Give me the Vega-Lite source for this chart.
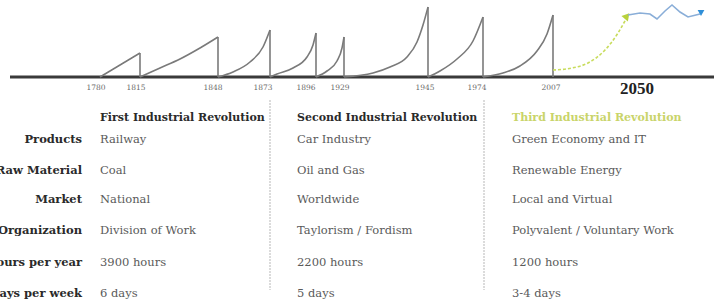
{
  "$schema": "https://vega.github.io/schema/vega-lite/v6.json",
  "width": 714,
  "height": 299,
  "autosize": {"type": "none"},
  "padding": 0,
  "background": "#ffffff",
  "config": {"view": {"stroke": null}},
  "datasets": {
    "curves": [
      {"wave": 1, "x": 100, "y": 0}, {"wave": 1, "x": 110, "y": 6}, {"wave": 1, "x": 120, "y": 12}, {"wave": 1, "x": 130, "y": 18}, {"wave": 1, "x": 140, "y": 24},
      {"wave": 2, "x": 140, "y": 0}, {"wave": 2, "x": 160, "y": 9}, {"wave": 2, "x": 180, "y": 18}, {"wave": 2, "x": 200, "y": 29}, {"wave": 2, "x": 218, "y": 40},
      {"wave": 3, "x": 218, "y": 0}, {"wave": 3, "x": 233, "y": 5}, {"wave": 3, "x": 250, "y": 15}, {"wave": 3, "x": 263, "y": 30}, {"wave": 3, "x": 270, "y": 47},
      {"wave": 4, "x": 270, "y": 0}, {"wave": 4, "x": 277, "y": 3}, {"wave": 4, "x": 293, "y": 9}, {"wave": 4, "x": 307, "y": 20}, {"wave": 4, "x": 313, "y": 32}, {"wave": 4, "x": 316, "y": 44},
      {"wave": 5, "x": 316, "y": 0}, {"wave": 5, "x": 327, "y": 6}, {"wave": 5, "x": 337, "y": 16}, {"wave": 5, "x": 342, "y": 29}, {"wave": 5, "x": 344, "y": 40},
      {"wave": 6, "x": 344, "y": 0}, {"wave": 6, "x": 373, "y": 4}, {"wave": 6, "x": 390, "y": 10}, {"wave": 6, "x": 407, "y": 20}, {"wave": 6, "x": 417, "y": 35}, {"wave": 6, "x": 423, "y": 52}, {"wave": 6, "x": 428, "y": 70},
      {"wave": 7, "x": 428, "y": 0}, {"wave": 7, "x": 440, "y": 6}, {"wave": 7, "x": 457, "y": 18}, {"wave": 7, "x": 473, "y": 36}, {"wave": 7, "x": 483, "y": 60},
      {"wave": 8, "x": 483, "y": 0}, {"wave": 8, "x": 503, "y": 4}, {"wave": 8, "x": 520, "y": 11}, {"wave": 8, "x": 537, "y": 26}, {"wave": 8, "x": 547, "y": 43}, {"wave": 8, "x": 553, "y": 62}
    ],
    "drops": [
      {"x": 140, "top": 24}, {"x": 218, "top": 40}, {"x": 270, "top": 47}, {"x": 316, "top": 44},
      {"x": 344, "top": 40}, {"x": 428, "top": 70}, {"x": 483, "top": 60}, {"x": 553, "top": 62}
    ],
    "green": [
      {"x": 553, "y": 7}, {"x": 572, "y": 9}, {"x": 588, "y": 14}, {"x": 605, "y": 27}, {"x": 618, "y": 44}, {"x": 626, "y": 58}
    ],
    "blue": [
      {"x": 628, "y": 62}, {"x": 640, "y": 64}, {"x": 650, "y": 63}, {"x": 657, "y": 58}, {"x": 665, "y": 66}, {"x": 672, "y": 72}, {"x": 680, "y": 65}, {"x": 688, "y": 60}, {"x": 700, "y": 63}
    ],
    "years": [
      {"label": "1780", "x": 96}, {"label": "1815", "x": 136}, {"label": "1848", "x": 213}, {"label": "1873", "x": 263},
      {"label": "1896", "x": 306}, {"label": "1929", "x": 340}, {"label": "1945", "x": 425}, {"label": "1974", "x": 477}, {"label": "2007", "x": 551}
    ],
    "seps": [{"x": 270, "y": -23, "y2": -213}, {"x": 484, "y": -23, "y2": -213}],
    "rowlabels": [
      {"text": "Products", "y": -63}, {"text": "Raw Material", "y": -94}, {"text": "Market", "y": -123},
      {"text": "Organization", "y": -154}, {"text": "Hours per year", "y": -186}, {"text": "Days per week", "y": -217}
    ],
    "headers": [
      {"rev": "First", "text": "First Industrial Revolution", "x": 100},
      {"rev": "Second", "text": "Second Industrial Revolution", "x": 297},
      {"rev": "Third", "text": "Third Industrial Revolution", "x": 512}
    ],
    "cells": [
      {"x": 100, "y": -63, "text": "Railway"}, {"x": 100, "y": -94, "text": "Coal"}, {"x": 100, "y": -123, "text": "National"},
      {"x": 100, "y": -154, "text": "Division of Work"}, {"x": 100, "y": -186, "text": "3900 hours"}, {"x": 100, "y": -217, "text": "6 days"},
      {"x": 297, "y": -63, "text": "Car Industry"}, {"x": 297, "y": -94, "text": "Oil and Gas"}, {"x": 297, "y": -123, "text": "Worldwide"},
      {"x": 297, "y": -154, "text": "Taylorism / Fordism"}, {"x": 297, "y": -186, "text": "2200 hours"}, {"x": 297, "y": -217, "text": "5 days"},
      {"x": 512, "y": -63, "text": "Green Economy and IT"}, {"x": 512, "y": -94, "text": "Renewable Energy"}, {"x": 512, "y": -123, "text": "Local and Virtual"},
      {"x": 512, "y": -154, "text": "Polyvalent / Voluntary Work"}, {"x": 512, "y": -186, "text": "1200 hours"}, {"x": 512, "y": -217, "text": "3-4 days"}
    ]
  },
  "layer": [
    {
      "data": {"values": [{"x": 10, "x2": 714, "y": 0}]},
      "mark": {"type": "rule", "stroke": "#3a3a3a", "strokeWidth": 3},
      "encoding": {
        "x": {"field": "x", "type": "quantitative", "scale": {"domain": [0, 714], "nice": false, "zero": false}, "axis": null},
        "x2": {"field": "x2"},
        "y": {"field": "y", "type": "quantitative", "scale": {"domain": [-222, 77], "nice": false, "zero": false}, "axis": null}
      }
    },
    {
      "data": {"name": "curves"},
      "mark": {"type": "line", "interpolate": "monotone", "stroke": "#7a7a7a", "strokeWidth": 1.6},
      "encoding": {
        "x": {"field": "x", "type": "quantitative"},
        "y": {"field": "y", "type": "quantitative"},
        "detail": {"field": "wave"}
      }
    },
    {
      "data": {"name": "drops"},
      "mark": {"type": "rule", "stroke": "#7a7a7a", "strokeWidth": 1.6},
      "encoding": {
        "x": {"field": "x", "type": "quantitative"},
        "y": {"field": "top", "type": "quantitative"},
        "y2": {"datum": 0}
      }
    },
    {
      "data": {"name": "green"},
      "mark": {"type": "line", "interpolate": "monotone", "stroke": "#c8dc5c", "strokeWidth": 1.6, "strokeDash": [3, 2]},
      "encoding": {
        "x": {"field": "x", "type": "quantitative"},
        "y": {"field": "y", "type": "quantitative"}
      }
    },
    {
      "data": {"values": [{"x": 627, "y": 61}]},
      "mark": {"type": "point", "shape": "triangle-up", "angle": 40, "filled": true, "fill": "#b8d23c", "size": 70, "opacity": 1},
      "encoding": {
        "x": {"field": "x", "type": "quantitative"},
        "y": {"field": "y", "type": "quantitative"}
      }
    },
    {
      "data": {"name": "blue"},
      "mark": {"type": "line", "stroke": "#8aaed8", "strokeWidth": 1.6},
      "encoding": {
        "x": {"field": "x", "type": "quantitative"},
        "y": {"field": "y", "type": "quantitative"}
      }
    },
    {
      "data": {"values": [{"x": 701, "y": 64}]},
      "mark": {"type": "point", "shape": "triangle-down", "filled": true, "fill": "#2f8fd8", "size": 45, "opacity": 1},
      "encoding": {
        "x": {"field": "x", "type": "quantitative"},
        "y": {"field": "y", "type": "quantitative"}
      }
    },
    {
      "data": {"name": "years"},
      "mark": {"type": "text", "font": "DejaVu Serif", "fontSize": 7.5, "fill": "#6a6a6a", "align": "center", "baseline": "middle"},
      "encoding": {
        "x": {"field": "x", "type": "quantitative"},
        "y": {"datum": -11},
        "text": {"field": "label"}
      }
    },
    {
      "data": {"values": [{"label": "2050", "x": 637}]},
      "mark": {"type": "text", "font": "Liberation Serif", "fontSize": 17, "fontWeight": "bold", "fill": "#222222", "align": "center", "baseline": "middle"},
      "encoding": {
        "x": {"field": "x", "type": "quantitative"},
        "y": {"datum": -12},
        "text": {"field": "label"}
      }
    },
    {
      "data": {"name": "seps"},
      "mark": {"type": "rule", "stroke": "#c4c4c4", "strokeWidth": 1.2, "strokeDash": [2, 1]},
      "encoding": {
        "x": {"field": "x", "type": "quantitative"},
        "y": {"field": "y", "type": "quantitative"},
        "y2": {"field": "y2"}
      }
    },
    {
      "data": {"name": "rowlabels"},
      "mark": {"type": "text", "font": "DejaVu Serif", "fontSize": 11.5, "fontWeight": "bold", "fill": "#2a2a2a", "align": "right", "baseline": "middle"},
      "encoding": {
        "x": {"datum": 82},
        "y": {"field": "y", "type": "quantitative"},
        "text": {"field": "text"}
      }
    },
    {
      "data": {"name": "headers"},
      "mark": {"type": "text", "font": "DejaVu Serif", "fontSize": 11, "fontWeight": "bold", "align": "left", "baseline": "middle"},
      "encoding": {
        "x": {"field": "x", "type": "quantitative"},
        "y": {"datum": -41},
        "text": {"field": "text"},
        "color": {"field": "rev", "type": "nominal", "legend": null, "scale": {"domain": ["First", "Second", "Third"], "range": ["#2a2a2a", "#2a2a2a", "#c9d46a"]}}
      }
    },
    {
      "data": {"name": "cells"},
      "mark": {"type": "text", "font": "DejaVu Serif", "fontSize": 11.5, "fill": "#5a5a5a", "align": "left", "baseline": "middle"},
      "encoding": {
        "x": {"field": "x", "type": "quantitative"},
        "y": {"field": "y", "type": "quantitative"},
        "text": {"field": "text"}
      }
    }
  ]
}
